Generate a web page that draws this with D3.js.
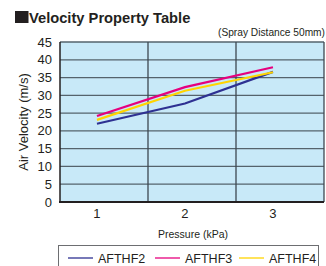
<!DOCTYPE html>
<html>
<head>
<meta charset="utf-8">
<script src="https://cdn.jsdelivr.net/npm/d3@7.9.0/dist/d3.min.js"></script>
<style>
  body { margin: 0; background: #fff; }
  svg { display: block; }
  text { font-family: "Liberation Sans Narrow", "Arial Narrow", "Liberation Sans", sans-serif; fill: #231f20; }
</style>
</head>
<body>
<svg id="chart"></svg>
<script>
// Pressure categories (kPa)
const pressures = [1, 2, 3];
const seriesNames = ['AFTHF2', 'AFTHF3', 'AFTHF4'];
// Air velocity (m/s) at 50mm spray distance
const afthf2 = [22, 27.7, 36.6];
const afthf3 = [24.2, 32.3, 37.9];
const afthf4 = [23.1, 31.3, 36.5];
const yTicks = [0, 5, 10, 15, 20, 25, 30, 35, 40, 45];
const colors = ['#2e3192', '#e6007e', '#ffd400'];

const width = 326;
const height = 266;
const margin = { top: 42, right: 2, bottom: 64, left: 60 };

const svg = d3.select('#chart')
  .attr('width', width)
  .attr('height', height);

const xScale = d3.scaleLinear()
  .domain([0.58, 3.58])
  .range([margin.left, width - margin.right]);

const yScale = d3.scaleLinear()
  .domain([0, 45])
  .range([height - margin.bottom, margin.top]);

// title
svg.append('rect')
  .attr('x', 15).attr('y', 11).attr('width', 13.5).attr('height', 12)
  .attr('fill', '#231f20');
svg.append('text')
  .attr('x', 29).attr('y', 22.5)
  .style('font-family', '"Liberation Sans", Arial, sans-serif')
  .style('font-weight', 'bold')
  .style('font-size', '14.7px')
  .text('Velocity Property Table');
svg.append('text')
  .attr('x', 325).attr('y', 36)
  .attr('text-anchor', 'end')
  .style('font-size', '10.2px')
  .text('(Spray Distance 50mm)');

// plot background
svg.append('rect')
  .attr('x', xScale(0.58)).attr('y', yScale(45))
  .attr('width', xScale(3.58) - xScale(0.58))
  .attr('height', yScale(0) - yScale(45))
  .attr('fill', '#c8e9f8');

// horizontal gridlines
svg.append('g')
  .selectAll('line')
  .data(yTicks.filter(d => d > 0))
  .join('line')
  .attr('x1', xScale(0.58)).attr('x2', xScale(3.58))
  .attr('y1', d => yScale(d)).attr('y2', d => yScale(d))
  .attr('stroke', '#55636c')
  .attr('stroke-width', 1.3);

// vertical gridlines
svg.append('g')
  .selectAll('line')
  .data([1.58, 2.58, 3.58])
  .join('line')
  .attr('x1', d => xScale(d)).attr('x2', d => xScale(d))
  .attr('y1', yScale(45)).attr('y2', yScale(0))
  .attr('stroke', '#3d4850')
  .attr('stroke-width', 1.3);

// left and bottom axes lines
svg.append('line')
  .attr('x1', xScale(0.58)).attr('x2', xScale(0.58))
  .attr('y1', yScale(45)).attr('y2', yScale(0))
  .attr('stroke', '#231f20').attr('stroke-width', 1.5);
svg.append('line')
  .attr('x1', xScale(0.58) - 1).attr('x2', xScale(3.58))
  .attr('y1', yScale(0)).attr('y2', yScale(0))
  .attr('stroke', '#231f20').attr('stroke-width', 1.8);

// y tick labels
svg.append('g')
  .selectAll('text')
  .data(yTicks)
  .join('text')
  .attr('x', 52)
  .attr('y', d => yScale(d) + 4.5)
  .attr('text-anchor', 'end')
  .style('font-size', '13px')
  .text(d => d);

// x tick labels
svg.append('g')
  .selectAll('text')
  .data(pressures)
  .join('text')
  .attr('x', d => xScale(d))
  .attr('y', 218)
  .attr('text-anchor', 'middle')
  .style('font-size', '13px')
  .text(d => d);

// axis titles
svg.append('text')
  .attr('transform', `translate(28, ${(yScale(0) + yScale(45)) / 2}) rotate(-90)`)
  .attr('text-anchor', 'middle')
  .style('font-size', '13px')
  .text('Air Velocity (m/s)');
svg.append('text')
  .attr('x', 193).attr('y', 238)
  .attr('text-anchor', 'middle')
  .style('font-size', '10.5px')
  .text('Pressure (kPa)');

// series lines
const line = d3.line()
  .x((d, i) => xScale(pressures[i]))
  .y(d => yScale(d));

const series = [afthf2, afthf3, afthf4];
svg.append('g')
  .selectAll('path')
  .data([series[0], series[2], series[1]])
  .join('path')
  .attr('d', d => line(d))
  .attr('fill', 'none')
  .attr('stroke', d => colors[series.indexOf(d)])
  .attr('stroke-width', 2.2);

// legend
svg.append('rect')
  .attr('x', 58.5).attr('y', 245.5)
  .attr('width', 260).attr('height', 30)
  .attr('fill', 'none')
  .attr('stroke', '#6d6e71')
  .attr('stroke-width', 1);

const legendX = [68, 155, 239];
const legend = svg.append('g')
  .selectAll('g')
  .data(seriesNames)
  .join('g')
  .attr('transform', (d, i) => `translate(${legendX[i]}, 258)`);
legend.append('line')
  .attr('x1', 0).attr('x2', 25)
  .attr('y1', 0).attr('y2', 0)
  .attr('stroke', (d, i) => colors[i])
  .attr('stroke-width', 1.3);
legend.append('text')
  .attr('x', 30).attr('y', 4.5)
  .style('font-size', '12.5px')
  .text(d => d);
</script>
</body>
</html>
